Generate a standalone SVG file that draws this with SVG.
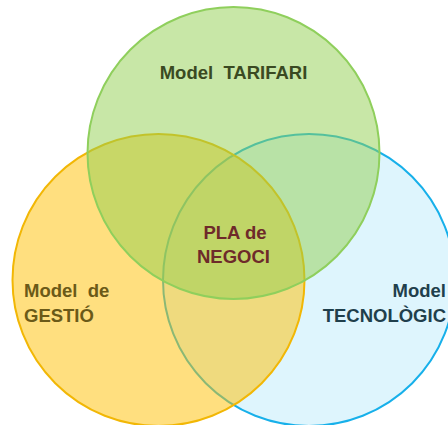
<svg xmlns="http://www.w3.org/2000/svg" width="448" height="425" viewBox="0 0 448 425">
<style>
.t{font-family:"Liberation Sans",Arial,sans-serif;font-weight:bold;font-size:18.5px;white-space:pre}
</style>
<rect width="448" height="425" fill="#ffffff"/>
<g id="tecnologic">
<circle cx="309" cy="280" r="146" fill="#00b0f0" fill-opacity="0.13" stroke="#17b0ea" stroke-width="2"/>
</g>
<g id="gestio">
<circle cx="158.5" cy="280" r="146" fill="#ffc000" fill-opacity="0.5" stroke="#f2b705" stroke-width="2"/>
</g>
<g id="tarifari">
<circle cx="233.5" cy="153" r="146" fill="#92d050" fill-opacity="0.5" stroke="#8fcf5c" stroke-width="2"/>
</g>
<g id="labels">
<text class="t" x="233.5" y="79" text-anchor="middle" fill="#3a4a22">Model  TARIFARI</text>
<text class="t" x="235" y="239" text-anchor="middle" fill="#6e2a2a">PLA de</text>
<text class="t" x="233.5" y="263" text-anchor="middle" fill="#6e2a2a">NEGOCI</text>
<text class="t" x="24" y="297" fill="#6b5a18">Model  de</text>
<text class="t" x="24" y="322" fill="#6b5a18">GESTIÓ</text>
<text class="t" x="446" y="297" text-anchor="end" fill="#1f3f4c">Model</text>
<text class="t" x="446" y="322" text-anchor="end" fill="#1f3f4c">TECNOLÒGIC</text>
</g>
</svg>
